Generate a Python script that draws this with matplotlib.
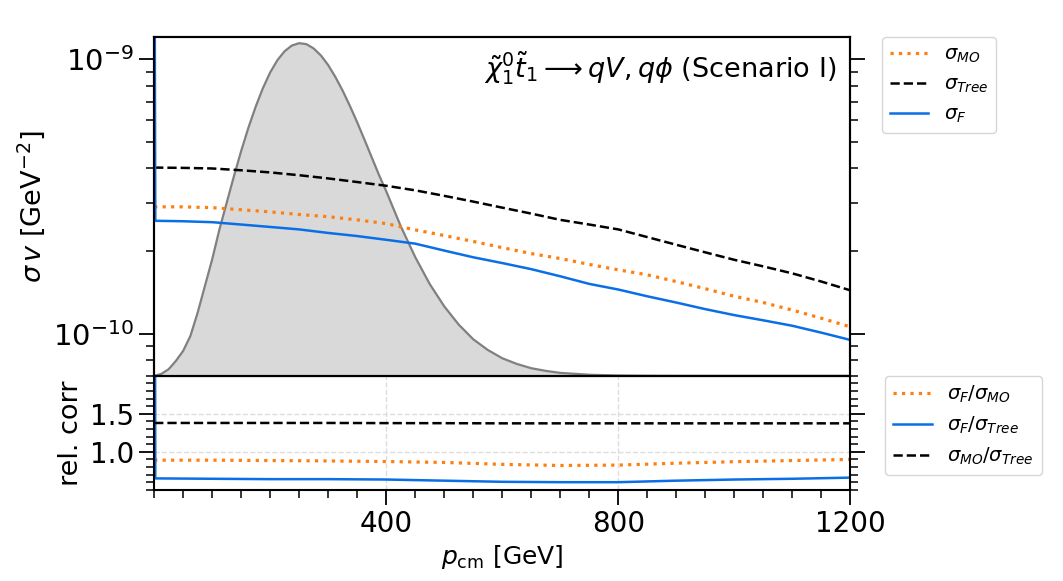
import numpy as np
import matplotlib
matplotlib.use('Agg')
import matplotlib.pyplot as plt
from matplotlib.ticker import MultipleLocator, NullFormatter, LogLocator

# Momentum grid (GeV) for the cross sections
p_sig = [0, 50, 100, 150, 200, 250, 300, 350, 400, 450, 500, 550, 600,
         650, 700, 750, 800, 850, 900, 950, 1000, 1050, 1100, 1150, 1200]

# sigma v in units of 1e-10 GeV^-2
sig_tree = [4.03, 4.02, 4.00, 3.94, 3.87, 3.78, 3.68, 3.57, 3.46, 3.33, 3.18, 3.03, 2.88,
            2.74, 2.60, 2.50, 2.40, 2.25, 2.11, 1.98, 1.86, 1.76, 1.66, 1.55, 1.44]
sig_mo = [2.90, 2.90, 2.88, 2.83, 2.78, 2.72, 2.67, 2.60, 2.52, 2.39, 2.28, 2.17, 2.06,
          1.96, 1.88, 1.79, 1.71, 1.64, 1.55, 1.46, 1.37, 1.30, 1.22, 1.14, 1.06]

# full result: first point blows up at p = 0
p_f = [0, 2, 50, 100, 150, 200, 250, 300, 350, 400, 450, 500, 550, 600,
       650, 700, 750, 800, 850, 900, 950, 1000, 1050, 1100, 1150, 1200]
sig_f = [100.0, 2.58, 2.57, 2.55, 2.50, 2.45, 2.40, 2.33, 2.27, 2.20, 2.13, 2.01, 1.90, 1.81,
         1.72, 1.62, 1.52, 1.45, 1.37, 1.30, 1.23, 1.17, 1.12, 1.07, 1.01, 0.95]

# momentum distribution (arbitrary units, peak = 1)
p_dist = [0, 12.5, 25, 37.5, 50, 62.5, 75, 87.5, 100, 112.5, 125, 137.5, 150, 162.5, 175,
          187.5, 200, 212.5, 225, 237.5, 250, 262.5, 275, 287.5, 300, 312.5, 325, 337.5,
          350, 362.5, 375, 387.5, 400, 425, 450, 475, 500, 525, 550, 575, 600, 625, 650,
          675, 700, 750, 800, 850, 900, 1000, 1200]
dist = [0.0, 0.006, 0.02, 0.045, 0.075, 0.12, 0.19, 0.27, 0.35, 0.44, 0.52, 0.60, 0.676,
        0.746, 0.809, 0.865, 0.912, 0.949, 0.976, 0.993, 1.0, 0.997, 0.984, 0.963, 0.934,
        0.898, 0.857, 0.811, 0.762, 0.71, 0.657, 0.604, 0.555, 0.45, 0.357, 0.276, 0.209,
        0.154, 0.11, 0.078, 0.053, 0.036, 0.023, 0.015, 0.009, 0.0034, 0.0012, 0.0004,
        0.0001, 0.0, 0.0]

# ratios
p_rat = [0, 100, 200, 300, 400, 500, 600, 700, 800, 900, 1000, 1100, 1200]
rat_f_mo = [0.89, 0.89, 0.885, 0.88, 0.872, 0.86, 0.835, 0.82, 0.825, 0.85, 0.87, 0.885, 0.90]
p_rat_f = [0, 2, 100, 200, 300, 400, 500, 600, 700, 800, 900, 1000, 1100, 1200]
rat_f_tree = [10.0, 0.65, 0.645, 0.64, 0.64, 0.635, 0.62, 0.605, 0.60, 0.60, 0.62, 0.635, 0.645, 0.66]
rat_mo_tree = [1.38, 1.38, 1.38, 1.38, 1.378, 1.377, 1.375, 1.375, 1.375, 1.375, 1.375, 1.375, 1.375]

orange = '#ff7f0e'
blue = '#0a6fe6'

fig = plt.figure(figsize=(10.63, 5.81), dpi=100)
gs = fig.add_gridspec(2, 1, height_ratios=[339, 114], hspace=0,
                      left=0.145, right=0.80, top=0.936, bottom=0.157)
ax = fig.add_subplot(gs[0])
axr = fig.add_subplot(gs[1], sharex=ax)

# distribution on a twin axis, drawn behind the curves
axd = ax.twinx()
axd.fill_between(p_dist, dist, color='#d9d9d9', lw=0)
axd.plot(p_dist, dist, color='gray', lw=1.6)
axd.set_ylim(0, 1.018)
axd.set_yticks([])
ax.set_zorder(axd.get_zorder() + 1)
ax.patch.set_visible(False)

ax.plot(p_sig, np.array(sig_mo) * 1e-10, ':', color=orange, lw=2.3, label=r'$\sigma_{MO}$')
ax.plot(p_sig, np.array(sig_tree) * 1e-10, '--', color='k', lw=1.8, label=r'$\sigma_{Tree}$')
ax.plot(p_f, np.array(sig_f) * 1e-10, '-', color=blue, lw=1.8, label=r'$\sigma_{F}$')
ax.set_yscale('log')
ax.set_ylim(10**-10.153, 10**-8.92)
ax.set_xlim(0, 1200)
ax.yaxis.set_major_locator(LogLocator(base=10, numticks=10))
ax.yaxis.set_minor_locator(LogLocator(base=10, subs=np.arange(2, 10), numticks=20))
ax.yaxis.set_minor_formatter(NullFormatter())
ax.set_ylabel(r'$\sigma\, v$ [GeV$^{-2}$]', fontsize=19.5)
ax.tick_params(axis='y', which='both', direction='out', right=True, labelsize=21)
ax.tick_params(axis='y', which='major', length=11, width=1.3)
ax.tick_params(axis='y', which='minor', length=5.5, width=1.1)
ax.tick_params(axis='x', which='both', bottom=False, labelbottom=False)
ax.text(0.98, 0.91, r'$\tilde{\chi}_1^0\tilde{t}_1 \longrightarrow qV, q\phi$ (Scenario I)',
        transform=ax.transAxes, ha='right', va='center', fontsize=19.5)
ax.legend(loc='upper left', bbox_to_anchor=(1.045, 1.0), borderaxespad=0, fontsize=14)

# ratio panel
axr.plot(p_rat, rat_f_mo, ':', color=orange, lw=2.3, label=r'$\sigma_F/\sigma_{MO}$')
axr.plot(p_rat_f, rat_f_tree, '-', color=blue, lw=1.8, label=r'$\sigma_F/\sigma_{Tree}$')
axr.plot(p_rat, rat_mo_tree, '--', color='k', lw=1.8, label=r'$\sigma_{MO}/\sigma_{Tree}$')
axr.set_ylim(0.5, 2.0)
axr.set_yticks([1.0, 1.5])
axr.yaxis.set_minor_locator(MultipleLocator(0.1))
axr.set_xticks([400, 800, 1200])
axr.xaxis.set_minor_locator(MultipleLocator(50))
axr.grid(True, which='major', ls='--', color='#dddddd', lw=1)
axr.set_xlabel(r'$p_{\rm cm}$ [GeV]', fontsize=18)
axr.set_ylabel('rel. corr', fontsize=19.5)
axr.tick_params(which='both', direction='out', right=True, labelsize=20)
axr.tick_params(which='major', length=11, width=1.3)
axr.tick_params(which='minor', length=5.5, width=1.1)
axr.legend(loc='upper left', bbox_to_anchor=(1.05, 1.0), borderaxespad=0, fontsize=14)

for a in (ax, axr, axd):
    for s in a.spines.values():
        s.set_linewidth(1.5)

fig.savefig('out.png', dpi=100)
